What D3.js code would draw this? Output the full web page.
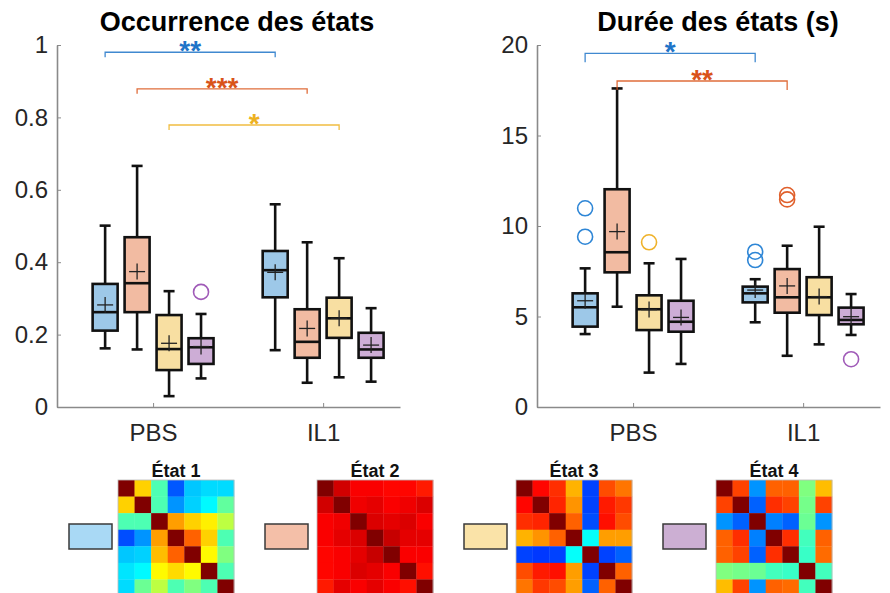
<!DOCTYPE html>
<html>
<head>
<meta charset="utf-8">
<script src="https://cdn.jsdelivr.net/npm/d3@7/dist/d3.min.js"></script>
<style>
  html, body { margin: 0; padding: 0; background: #fff; }
  svg { display: block; }
</style>
</head>
<body>
<script>
// ---------------- DATA ----------------
const groups = ["PBS", "IL1"];
const states = ["État 1", "État 2", "État 3", "État 4"];
const occTicks = [0, 0.2, 0.4, 0.6, 0.8, 1];
const occTickLabels = ["0", "0.2", "0.4", "0.6", "0.8", "1"];
const durTicks = [0, 5, 10, 15, 20];
const durTickLabels = ["0", "5", "10", "15", "20"];

// order: PBS (état 1..4), IL1 (état 1..4)
const occWhiskerLow  = [0.162, 0.159, 0.030, 0.079, 0.157, 0.067, 0.082, 0.070];
const occQ1          = [0.211, 0.262, 0.102, 0.119, 0.303, 0.136, 0.191, 0.136];
const occMedian      = [0.262, 0.342, 0.160, 0.165, 0.378, 0.180, 0.245, 0.159];
const occQ3          = [0.340, 0.469, 0.254, 0.190, 0.431, 0.270, 0.302, 0.205];
const occWhiskerHigh = [0.501, 0.666, 0.320, 0.257, 0.560, 0.455, 0.411, 0.273];
const occMean        = [0.282, 0.374, 0.176, 0.167, 0.372, 0.217, 0.245, 0.171];
const occOutlierIdx  = [3];
const occOutlierVal  = [0.318];

const durWhiskerLow  = [4.03, 5.54, 1.90, 2.38, 4.68, 2.83, 3.46, 3.98];
const durQ1          = [4.44, 7.44, 4.25, 4.16, 5.78, 5.21, 5.08, 4.57];
const durMedian      = [5.51, 8.55, 5.40, 4.71, 6.28, 6.06, 6.06, 4.81];
const durQ3          = [6.28, 12.03, 6.17, 5.87, 6.65, 7.62, 7.17, 5.49];
const durWhiskerHigh = [7.66, 17.6, 7.94, 8.18, 7.06, 8.91, 9.96, 6.24];
const durMean        = [5.87, 9.69, 5.38, 4.95, 6.46, 6.69, 6.10, 4.99];
const durOutlierIdx  = [0, 0, 2, 4, 4, 5, 5, 7];
const durOutlierVal  = [10.98, 9.41, 9.10, 8.58, 8.12, 11.71, 11.47, 2.64];

// significance brackets
const occSigFrom  = [0, 1, 2];
const occSigTo    = [4, 5, 6];
const occSigLevel = [0.98, 0.879, 0.779];
const occSigStars = ["**", "***", "*"];
const durSigFrom  = [0, 1];
const durSigTo    = [4, 5];
const durSigLevel = [19.54, 18.01];
const durSigStars = ["*", "**"];

// 7x7 connectivity matrices (jet colour scale, 0..1)
const mat1 = [
  [1.00, 0.67, 0.45, 0.21, 0.32, 0.34, 0.34],
  [0.67, 1.00, 0.45, 0.27, 0.33, 0.37, 0.47],
  [0.45, 0.45, 1.00, 0.72, 0.67, 0.64, 0.56],
  [0.20, 0.27, 0.72, 1.00, 0.78, 0.67, 0.45],
  [0.32, 0.33, 0.69, 0.78, 1.00, 0.63, 0.50],
  [0.35, 0.37, 0.63, 0.66, 0.63, 1.00, 0.45],
  [0.34, 0.48, 0.56, 0.45, 0.50, 0.45, 1.00]
];
const mat2 = [
  [1.00, 0.92, 0.88, 0.88, 0.87, 0.87, 0.85],
  [0.92, 1.00, 0.89, 0.90, 0.88, 0.89, 0.91],
  [0.88, 0.89, 1.00, 0.91, 0.90, 0.91, 0.88],
  [0.88, 0.90, 0.91, 1.00, 0.93, 0.90, 0.90],
  [0.87, 0.88, 0.90, 0.93, 1.00, 0.88, 0.88],
  [0.87, 0.88, 0.91, 0.90, 0.88, 1.00, 0.86],
  [0.85, 0.90, 0.88, 0.90, 0.88, 0.86, 1.00]
];
const mat3 = [
  [1.00, 0.87, 0.83, 0.70, 0.19, 0.80, 0.76],
  [0.87, 1.00, 0.84, 0.73, 0.19, 0.85, 0.82],
  [0.83, 0.84, 1.00, 0.78, 0.20, 0.86, 0.80],
  [0.70, 0.73, 0.78, 1.00, 0.38, 0.72, 0.72],
  [0.19, 0.18, 0.19, 0.38, 1.00, 0.19, 0.22],
  [0.80, 0.85, 0.86, 0.72, 0.19, 1.00, 0.78],
  [0.76, 0.82, 0.80, 0.72, 0.22, 0.78, 1.00]
];
const mat4 = [
  [1.00, 0.81, 0.27, 0.78, 0.78, 0.50, 0.69],
  [0.81, 1.00, 0.22, 0.83, 0.81, 0.49, 0.81],
  [0.27, 0.22, 1.00, 0.25, 0.22, 0.48, 0.27],
  [0.78, 0.83, 0.25, 1.00, 0.83, 0.44, 0.78],
  [0.78, 0.81, 0.22, 0.83, 1.00, 0.43, 0.77],
  [0.50, 0.49, 0.48, 0.44, 0.43, 1.00, 0.44],
  [0.69, 0.81, 0.27, 0.78, 0.77, 0.44, 1.00]
];
const matrices = [mat1, mat2, mat3, mat4];

// ---------------- STYLE ----------------
const fillColors   = ["#9DC8E8", "#F2BBA2", "#F8DFA2", "#CDADD6"];
const swatchColors = ["#A9D9F5", "#F4BFA8", "#FAE3A8", "#CCAFD3"];
const markColors   = ["#2E86D6", "#E0602C", "#EFB22A", "#A05BB8"];
const starColors   = ["#1F74C8", "#D95319", "#EDB120"];
const axisColor = "#8a8a8a";
const textColor = "#262626";
const FONT = "'Liberation Sans', Arial, sans-serif";

const W = 890, H = 593;
const svg = d3.select("body").append("svg").attr("width", W).attr("height", H)
  .style("font-family", FONT);

const unit = 0.188;
const boxW = 0.147;
const offsets = [-1.5, -0.5, 0.5, 1.5].map(k => k * unit);

function drawPanel(cfg) {
  const x = d3.scaleLinear().domain([0.435, 2.452]).range(cfg.xRange);
  const y = d3.scaleLinear().domain(cfg.yDomain).range([407, 45]);
  const g = svg.append("g");

  const ya = d3.axisLeft(y).tickValues(cfg.ticks)
    .tickFormat((d, i) => cfg.tickLabels[i])
    .tickSizeInner(-4).tickSizeOuter(0).tickPadding(9);
  const yg = g.append("g").attr("transform", `translate(${cfg.xRange[0]},0)`).call(ya);
  const xa = d3.axisBottom(x).tickValues([1, 2])
    .tickFormat((d, i) => groups[i])
    .tickSizeInner(-4).tickSizeOuter(0).tickPadding(17);
  const xg = g.append("g").attr("transform", `translate(0,407)`).call(xa);
  [yg, xg].forEach(a => {
    a.select(".domain").attr("stroke", axisColor).attr("stroke-width", 1.6);
    a.selectAll(".tick line").attr("stroke", axisColor).attr("stroke-width", 1);
    a.selectAll(".tick text").attr("fill", textColor).style("font-size", "24px")
      .style("font-family", FONT);
  });

  g.append("text").attr("x", cfg.titleX).attr("y", 31).attr("text-anchor", "middle")
    .style("font-size", "27px").style("font-weight", "bold").attr("fill", "#000")
    .text(cfg.title);

  const idx = d3.range(8);
  const bx = i => x(1 + Math.floor(i / 4) + offsets[i % 4]);
  const halfW = x(1 + boxW / 2) - x(1);
  const capHalf = 5.5;
  const crossHalf = 8;

  const bg = g.append("g");
  idx.forEach(i => {
    const X = bx(i), s = i % 4;
    bg.append("line").attr("x1", X).attr("x2", X).attr("y1", y(cfg.high[i])).attr("y2", y(cfg.q3[i]))
      .attr("stroke", "#111").attr("stroke-width", 2.6);
    bg.append("line").attr("x1", X).attr("x2", X).attr("y1", y(cfg.q1[i])).attr("y2", y(cfg.low[i]))
      .attr("stroke", "#111").attr("stroke-width", 2.6);
    [cfg.high[i], cfg.low[i]].forEach(v => {
      bg.append("line").attr("x1", X - capHalf).attr("x2", X + capHalf).attr("y1", y(v)).attr("y2", y(v))
        .attr("stroke", "#111").attr("stroke-width", 2.6);
    });
    bg.append("rect").attr("x", X - halfW).attr("width", 2 * halfW)
      .attr("y", y(cfg.q3[i])).attr("height", y(cfg.q1[i]) - y(cfg.q3[i]))
      .attr("fill", fillColors[s]).attr("stroke", "#111").attr("stroke-width", 2.6);
    bg.append("line").attr("x1", X - halfW).attr("x2", X + halfW)
      .attr("y1", y(cfg.med[i])).attr("y2", y(cfg.med[i]))
      .attr("stroke", "#111").attr("stroke-width", 2.6);
    const my = y(cfg.mean[i]);
    bg.append("line").attr("x1", X - crossHalf).attr("x2", X + crossHalf).attr("y1", my).attr("y2", my)
      .attr("stroke", "#222").attr("stroke-width", 1.3);
    bg.append("line").attr("x1", X).attr("x2", X).attr("y1", my - crossHalf).attr("y2", my + crossHalf)
      .attr("stroke", "#222").attr("stroke-width", 1.3);
  });
  cfg.outIdx.forEach((i, k) => {
    bg.append("circle").attr("cx", bx(i)).attr("cy", y(cfg.outVal[k])).attr("r", 7.5)
      .attr("fill", "none").attr("stroke", markColors[i % 4]).attr("stroke-width", 1.6);
  });

  cfg.sigFrom.forEach((f, k) => {
    const t = cfg.sigTo[k];
    const col = starColors[f % 4];
    const yy = y(cfg.sigLevel[k]);
    const x1 = bx(f), x2 = bx(t);
    g.append("path").attr("d", `M${x1},${yy + cfg.sigTick}V${yy}H${x2}V${yy + cfg.sigTick}`)
      .attr("fill", "none").attr("stroke", col).attr("stroke-width", 1.3).attr("opacity", 0.85);
    g.append("text").attr("x", (x1 + x2) / 2).attr("y", yy + 8).attr("text-anchor", "middle")
      .style("font-size", "28px").style("font-weight", "bold").attr("fill", col)
      .text(cfg.sigStars[k]);
  });
}

drawPanel({
  xRange: [57, 400], yDomain: [0, 1], ticks: occTicks, tickLabels: occTickLabels,
  title: "Occurrence des états", titleX: 237,
  low: occWhiskerLow, q1: occQ1, med: occMedian, q3: occQ3, high: occWhiskerHigh, mean: occMean,
  outIdx: occOutlierIdx, outVal: occOutlierVal,
  sigFrom: occSigFrom, sigTo: occSigTo, sigLevel: occSigLevel, sigStars: occSigStars, sigTick: 5
});
drawPanel({
  xRange: [537, 880], yDomain: [0, 20], ticks: durTicks, tickLabels: durTickLabels,
  title: "Durée des états (s)", titleX: 718,
  low: durWhiskerLow, q1: durQ1, med: durMedian, q3: durQ3, high: durWhiskerHigh, mean: durMean,
  outIdx: durOutlierIdx, outVal: durOutlierVal,
  sigFrom: durSigFrom, sigTo: durSigTo, sigLevel: durSigLevel, sigStars: durSigStars, sigTick: 9
});

function jet(v) {
  const c = t => Math.max(0, Math.min(1, t));
  const r = c(1.5 - Math.abs(4 * v - 3));
  const gg = c(1.5 - Math.abs(4 * v - 2));
  const b = c(1.5 - Math.abs(4 * v - 1));
  return d3.rgb(r * 255, gg * 255, b * 255).toString();
}
const color = d3.scaleSequential(jet).domain([0, 1]);

const swatchX = [69, 265, 464, 663];
const matX = [118, 317, 516, 716];
const matSize = 116;
states.forEach((name, s) => {
  svg.append("rect").attr("x", swatchX[s]).attr("y", 524).attr("width", 43).attr("height", 25)
    .attr("fill", swatchColors[s]).attr("stroke", "#3a3a3a").attr("stroke-width", 1.5);
  const band = d3.scaleBand().domain(d3.range(7)).range([0, matSize]);
  const mg = svg.append("g").attr("transform", `translate(${matX[s]},480)`);
  matrices[s].forEach((row, r) => row.forEach((v, c) => {
    mg.append("rect").attr("x", band(c)).attr("y", band(r))
      .attr("width", band.bandwidth() + 0.3).attr("height", band.bandwidth() + 0.3)
      .attr("fill", color(v));
  }));
  mg.append("rect").attr("width", matSize).attr("height", matSize)
    .attr("fill", "none").attr("stroke", "#bbb").attr("stroke-width", 0.8);
  svg.append("text").attr("x", matX[s] + matSize / 2).attr("y", 477).attr("text-anchor", "middle")
    .style("font-size", "18px").style("font-weight", "bold").attr("fill", "#111")
    .text(name);
});
</script>
</body>
</html>
